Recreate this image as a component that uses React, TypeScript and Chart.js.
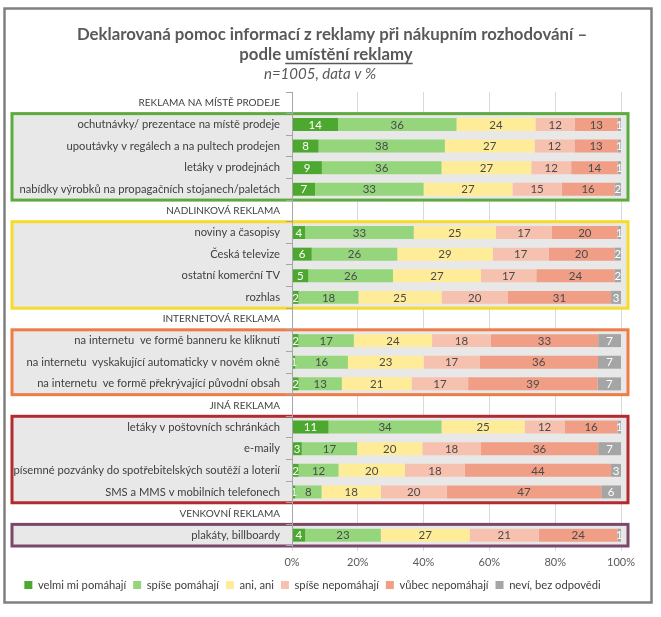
import { useEffect, useRef } from "react";
import { Chart, registerables } from "chart.js";

Chart.register(...registerables);

const FONT = "Lato";

const titleLine1 = "Deklarovaná pomoc informací z reklamy při nákupním rozhodování –";
const titleLine2a = "podle ";
const titleLine2b = "umístění reklamy";
const subtitle = "n=1005, data v %";

const categories = [
  "REKLAMA NA MÍSTĚ PRODEJE",
  "ochutnávky/ prezentace na místě prodeje",
  "upoutávky v regálech a na pultech prodejen",
  "letáky v prodejnách",
  "nabídky výrobků na propagačních stojanech/paletách",
  "NADLINKOVÁ REKLAMA",
  "noviny a časopisy",
  "Česká televize",
  "ostatní komerční TV",
  "rozhlas",
  "INTERNETOVÁ REKLAMA",
  "na internetu  ve formě banneru ke kliknutí",
  "na internetu  vyskakující automaticky v novém okně",
  "na internetu  ve formě překrývající původní obsah",
  "JINÁ REKLAMA",
  "letáky v poštovních schránkách",
  "e-maily",
  "písemné pozvánky do spotřebitelských soutěží a loterií",
  "SMS a MMS v mobilních telefonech",
  "VENKOVNÍ REKLAMA",
  "plakáty, billboardy",
];

const headerRows = [0, 5, 10, 14, 19];

const seriesNames = [
  "velmi mi pomáhají",
  "spíše pomáhají",
  "ani, ani",
  "spíše nepomáhají",
  "vůbec nepomáhají",
  "neví, bez odpovědi",
];

const velmi = [null, 14, 8, 9, 7, null, 4, 6, 5, 2, null, 2, 1, 2, null, 11, 3, 2, 1, null, 4];
const spisePomahaji = [null, 36, 38, 36, 33, null, 33, 26, 26, 18, null, 17, 16, 13, null, 34, 17, 12, 8, null, 23];
const aniAni = [null, 24, 27, 27, 27, null, 25, 29, 27, 25, null, 24, 23, 21, null, 25, 20, 20, 18, null, 27];
const spiseNepomahaji = [null, 12, 12, 12, 15, null, 17, 17, 17, 20, null, 18, 17, 17, null, 12, 18, 18, 20, null, 21];
const vubecNepomahaji = [null, 13, 13, 14, 16, null, 20, 20, 24, 31, null, 33, 36, 39, null, 16, 36, 44, 47, null, 24];
const nevi = [null, 1, 1, 1, 2, null, 1, 2, 2, 3, null, 7, 7, 7, null, 1, 7, 3, 6, null, 1];

const xTicks = [0, 20, 40, 60, 80, 100];

const seriesValues = [velmi, spisePomahaji, aniAni, spiseNepomahaji, vubecNepomahaji, nevi];
const seriesColors = ["#4DA82F", "#95D67D", "#FFEC99", "#F7C1AF", "#F09F86", "#A5A5A5"];
const labelColors = ["#FFFFFF", "#4A4A4A", "#4A4A4A", "#4A4A4A", "#4A4A4A", "#FFFFFF"];

const groups = [
  { from: 1, to: 4, color: "#5DAB3E" },
  { from: 6, to: 9, color: "#F6DA2C" },
  { from: 11, to: 13, color: "#EE7C47" },
  { from: 15, to: 18, color: "#B12B30" },
  { from: 20, to: 20, color: "#7A4869" },
];

const rowSums = categories.map((_, j) =>
  seriesValues.reduce((s, arr) => s + (arr[j] ?? 0), 0)
);

const frameTitlePlugin = {
  id: "frameTitle",
  beforeDraw(chart: any) {
    const { ctx } = chart;
    ctx.save();
    ctx.fillStyle = "#ffffff";
    ctx.fillRect(0, 0, chart.width, chart.height);
    ctx.strokeStyle = "#808080";
    ctx.lineWidth = 2.5;
    ctx.strokeRect(4.5, 8.5, 647, 594);

    ctx.fillStyle = "#595959";
    ctx.textBaseline = "middle";
    ctx.textAlign = "center";
    ctx.font = `bold 16.8px ${FONT}`;
    ctx.fillText(titleLine1, 332, 35);

    const wa = ctx.measureText(titleLine2a).width;
    const wb = ctx.measureText(titleLine2b).width;
    const start = 326 - (wa + wb) / 2;
    ctx.textAlign = "left";
    ctx.fillText(titleLine2a, start, 55);
    ctx.fillText(titleLine2b, start + wa, 55);
    ctx.strokeStyle = "#595959";
    ctx.lineWidth = 1.3;
    ctx.beginPath();
    ctx.moveTo(start + wa, 63.5);
    ctx.lineTo(start + wa + wb, 63.5);
    ctx.stroke();

    ctx.textAlign = "center";
    ctx.font = `italic 15px ${FONT}`;
    ctx.fillText(subtitle, 320, 74);
    ctx.restore();
  },
};

const groupBoxPlugin = {
  id: "groupBoxes",
  beforeDatasetsDraw(chart: any) {
    const { ctx, chartArea } = chart;
    const y = chart.scales.y;
    const half = (y.getPixelForValue(1) - y.getPixelForValue(0)) / 2;
    const left = 12;
    const right = chartArea.right + 7;
    ctx.save();
    ctx.fillStyle = "#E8E8E8";
    for (const g of groups) {
      const top = y.getPixelForValue(g.from) - half;
      const bottom = y.getPixelForValue(g.to) + half;
      ctx.fillRect(left, top, right - left, bottom - top);
    }
    ctx.restore();
  },
  afterDatasetsDraw(chart: any) {
    const { ctx, chartArea } = chart;
    const y = chart.scales.y;
    const half = (y.getPixelForValue(1) - y.getPixelForValue(0)) / 2;
    const left = 12;
    const right = chartArea.right + 7;
    ctx.save();
    ctx.lineWidth = 3;
    for (const g of groups) {
      const top = y.getPixelForValue(g.from) - half;
      const bottom = y.getPixelForValue(g.to) + half;
      ctx.strokeStyle = g.color;
      ctx.strokeRect(left, top, right - left, bottom - top);
    }
    ctx.font = `11.5px ${FONT}`;
    ctx.textAlign = "center";
    ctx.textBaseline = "middle";
    seriesValues.forEach((vals, i) => {
      const meta = chart.getDatasetMeta(i);
      meta.data.forEach((bar: any, j: number) => {
        const v = vals[j];
        if (v == null) return;
        const p = bar.getProps(["x", "y", "base"], true);
        ctx.fillStyle = labelColors[i];
        ctx.fillText(String(v), (p.x + p.base) / 2, p.y + 0.5);
      });
    });
    ctx.restore();
  },
};

export default function App() {
  const ref = useRef<HTMLCanvasElement>(null);
  useEffect(() => {
    if (!ref.current) return;
    const chart = new Chart(ref.current, {
      type: "bar",
      data: {
        labels: categories,
        datasets: seriesNames.map((name, i) => ({
          label: name,
          data: seriesValues[i].map((v, j) => (v == null ? null : (v * 100) / rowSums[j])),
          backgroundColor: seriesColors[i],
          borderWidth: 0,
          barPercentage: 0.6,
          categoryPercentage: 1,
          stack: "s",
        })),
      },
      options: {
        indexAxis: "y",
        animation: false,
        responsive: false,
        devicePixelRatio: 1,
        layout: { padding: { top: 92, left: 4, right: 40, bottom: 16.4 } },
        scales: {
          x: {
            stacked: true,
            min: 0,
            max: 100,
            afterBuildTicks: (scale: any) => {
              scale.ticks = xTicks.map((v) => ({ value: v }));
            },
            afterFit: (scale: any) => {
              scale.height = 26.4;
            },
            ticks: {
              callback: (v: any) => v + "%",
              color: "#595959",
              font: { family: FONT, size: 11 },
              padding: 5,
              maxRotation: 0,
            },
            grid: { color: "#D9D9D9", lineWidth: 1, tickLength: 5, drawTicks: true },
            border: { display: false },
          },
          y: {
            stacked: true,
            afterFit: (scale: any) => {
              scale.width = 288;
            },
            ticks: {
              z: 1,
              color: "#404040",
              padding: 6,
              autoSkip: false,
              font: (c: any) =>
                headerRows.includes(c.index)
                  ? { family: FONT, size: 10 }
                  : { family: FONT, size: 11.2 },
            },
            grid: { z: 1, drawOnChartArea: false, tickLength: 6, color: "#A6A6A6" },
            border: { z: 1, color: "#A6A6A6", width: 1 },
          },
        },
        plugins: {
          legend: {
            position: "bottom",
            labels: {
              boxWidth: 8,
              boxHeight: 8,
              color: "#404040",
              font: { family: FONT, size: 11.2 },
              padding: 7,
            },
          },
          tooltip: { enabled: false },
          title: { display: false },
        },
      },
      plugins: [frameTitlePlugin, groupBoxPlugin],
    } as any);
    return () => chart.destroy();
  }, []);
  return (
    <div style={{ position: "absolute", left: 0, top: 0, width: 661, height: 617 }}>
      <canvas ref={ref} width={661} height={617} style={{ width: 661, height: 617 }} />
    </div>
  );
}
